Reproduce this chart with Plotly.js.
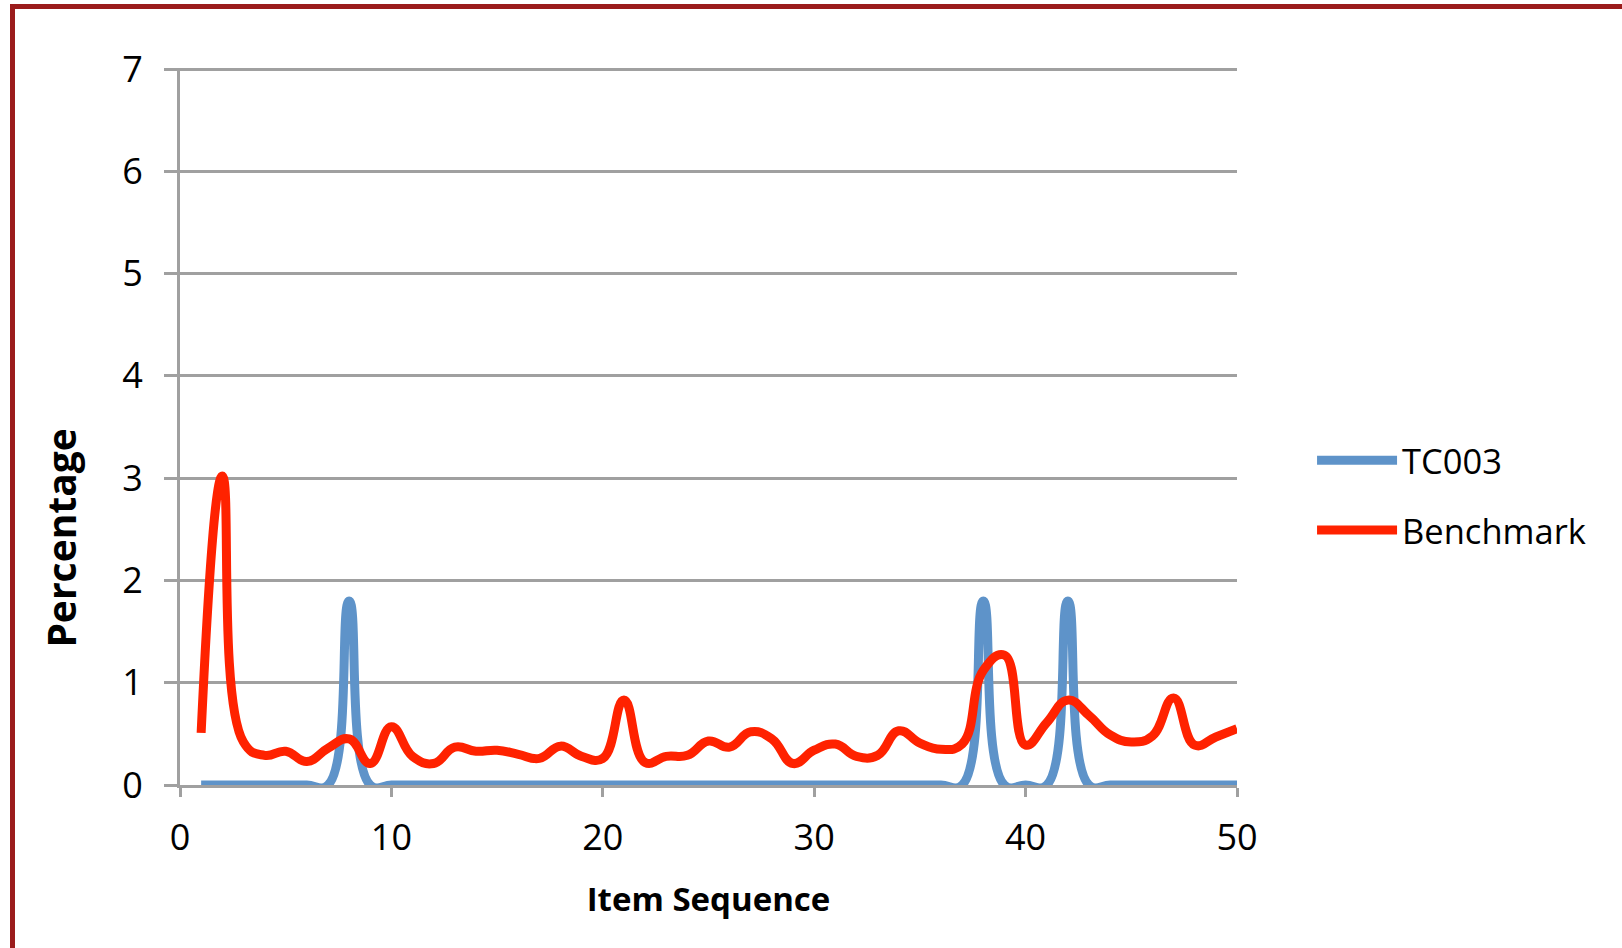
<!DOCTYPE html>
<html>
<head>
<meta charset="utf-8">
<script src="https://cdn.plot.ly/plotly-3.0.1.min.js"></script>
<style>
  html, body { margin: 0; padding: 0; background: #fff; overflow: hidden; }
  #chart { width: 1622px; height: 948px; }
  #frame { position: absolute; left: 10px; top: 4px; width: 3000px; height: 3000px;
           border-left: 5px solid #9B1C1C; border-top: 5px solid #9B1C1C; pointer-events: none; }
</style>
</head>
<body>
<div id="chart"></div>
<div id="frame"></div>
<script>
const items = [];
for (let i = 1; i <= 50; i++) items.push(i);

const tc003 = [0,0,0,0,0,0,0,1.8,0,0,
               0,0,0,0,0,0,0,0,0,0,
               0,0,0,0,0,0,0,0,0,0,
               0,0,0,0,0,0,0,1.8,0,0,
               0,1.8,0,0,0,0,0,0,0,0];

const benchmark = [0.51,3.02,0.42,0.29,0.33,0.23,0.36,0.45,0.21,0.57,
                   0.28,0.21,0.37,0.33,0.34,0.30,0.26,0.38,0.28,0.26,
                   0.83,0.22,0.28,0.29,0.43,0.37,0.52,0.45,0.21,0.34,
                   0.40,0.28,0.29,0.53,0.41,0.35,0.40,1.12,1.27,0.39,
                   0.61,0.83,0.68,0.49,0.42,0.48,0.85,0.39,0.47,0.55];

const seriesNames = ['TC003', 'Benchmark'];
const yTicks = [0,1,2,3,4,5,6,7];
const xTicks = [0,10,20,30,40,50];
const xTitle = 'Item Sequence';
const yTitle = 'Percentage';

const fontFam = '"Open Sans", "Liberation Sans", sans-serif';
const gridCol = '#A0A0A0';

const traces = [
  { x: items, y: tc003, name: seriesNames[0], type: 'scatter', mode: 'lines',
    line: { color: '#5E93C9', width: 9, shape: 'spline', smoothing: 1.3 }, legendgroup: 'a' },
  { x: items, y: benchmark, name: seriesNames[1], type: 'scatter', mode: 'lines',
    line: { color: '#FF2200', width: 9, shape: 'spline', smoothing: 1.3 }, legendgroup: 'b' }
];

const layout = {
  width: 1622, height: 948, autosize: false,
  paper_bgcolor: '#fff', plot_bgcolor: '#fff',
  margin: { l: 180, r: 385, t: 68, b: 163 },
  font: { family: fontFam, color: '#000', size: 34 },
  showlegend: true,
  legend: { x: 1.071, y: 0.404, xanchor: 'left', yanchor: 'middle',
            font: { family: fontFam, size: 34.5, color: '#000' },
            tracegroupgap: 22, itemwidth: 80, bgcolor: 'rgba(0,0,0,0)' },
  xaxis: {
    range: [0, 50], tickvals: xTicks, ticktext: xTicks.map(String),
    showgrid: false, zeroline: false, showline: true, linecolor: gridCol, linewidth: 3,
    ticks: 'outside', ticklen: 9, tickwidth: 3, tickcolor: gridCol,
    tickfont: { family: fontFam, size: 36 }, ticklabelstandoff: 10,
    title: { text: '<b>' + xTitle + '</b>', font: { family: fontFam, size: 33 }, standoff: 28 }
  },
  yaxis: {
    range: [0, 7.01], tickvals: yTicks, ticktext: yTicks.map(String),
    showgrid: true, gridcolor: gridCol, gridwidth: 3, zeroline: false,
    showline: true, linecolor: gridCol, linewidth: 3,
    ticks: 'outside', ticklen: 13, tickwidth: 3, tickcolor: gridCol,
    tickfont: { family: fontFam, size: 36 }, ticklabelstandoff: 14
  },
  annotations: [
    { text: '<b>' + yTitle + '</b>', xref: 'paper', yref: 'paper', x: -0.1126, y: 0.345,
      xanchor: 'center', yanchor: 'middle', textangle: -90, showarrow: false,
      font: { family: fontFam, size: 39, color: '#000' } }
  ]
};

Plotly.newPlot('chart', traces, layout, { displayModeBar: false, staticPlot: true });
</script>
</body>
</html>
